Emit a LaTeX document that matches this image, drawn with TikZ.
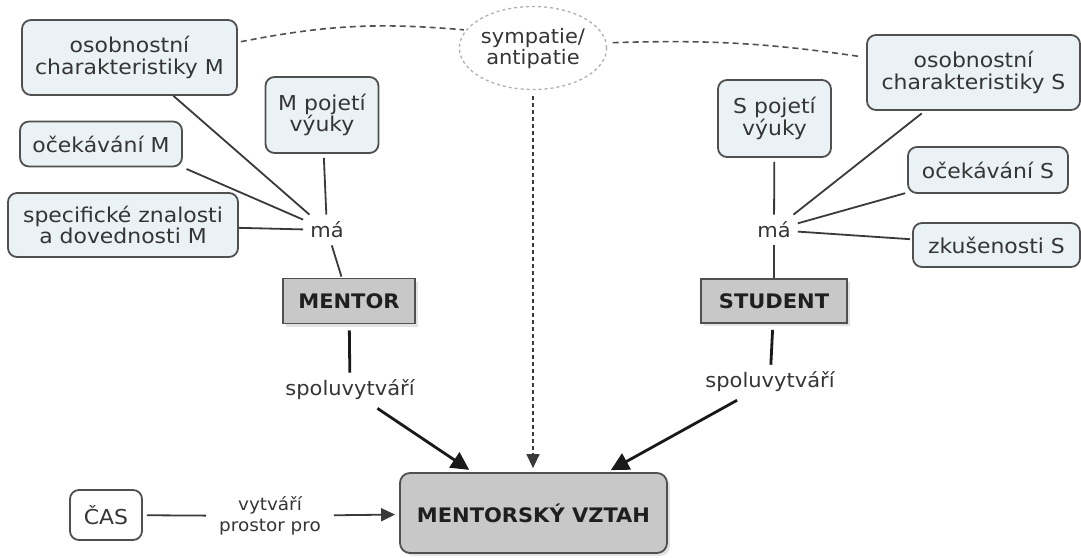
\documentclass[tikz,border=0pt]{standalone}
\usepackage{fontspec}
\setmainfont{DejaVu Sans}[FakeStretch=1.07]
\newfontfamily\headfont{DejaVu Sans}[FakeStretch=1.05]
\usetikzlibrary{arrows.meta,shadows,shapes.geometric}

\definecolor{boxfill}{HTML}{EAF2F6}
\definecolor{boxline}{HTML}{505050}
\definecolor{txt}{HTML}{353535}
\definecolor{grayfill}{HTML}{C8C8C8}
\definecolor{linecol}{HTML}{3A3A3A}
\definecolor{ovalline}{HTML}{B0B0B0}

\tikzset{
  concept/.style={draw=boxline, line width=1.8pt, fill=boxfill, rounded corners=9pt,
    align=center, text=txt, inner sep=0pt, font=\fontsize{20.5}{21.5}\selectfont},
  actor/.style={draw=boxline, line width=1.8pt, fill=grayfill, inner sep=0pt,
    text=black!88, font=\headfont\fontsize{20}{22}\selectfont\bfseries,
    drop shadow={shadow xshift=3pt, shadow yshift=-3pt, opacity=0.22}},
  phrase/.style={text=txt, inner sep=7pt, align=center,
    font=\headfont\fontsize{20}{21}\selectfont},
  link/.style={draw=linecol, line width=1.8pt},
  strong/.style={draw=black!90, line width=2.8pt},
  bighead/.style={-{Triangle[length=18pt,width=18pt]}},
  smallhead/.style={-{Triangle[length=14pt,width=13pt]}},
  dashlink/.style={draw=boxline, line width=1.6pt, dash pattern=on 6pt off 4pt},
}

\begin{document}
\begin{tikzpicture}[x=1pt,y=-1pt]
  \useasboundingbox[fill=white] (0,0) rectangle (1081,557);

  % mentor side
  \node[concept, minimum width=215pt, minimum height=75pt] (om) at (129.5,57.5)
    {osobnostní\\charakteristiky M};
  \node[concept, minimum width=113pt, minimum height=76pt] (mp) at (322,115)
    {M pojetí\\výuky};
  \node[concept, minimum width=162pt, minimum height=45pt] (oM) at (101,144)
    {očekávání M};
  \node[concept, minimum width=230pt, minimum height=64pt] (sz) at (123,225)
    {specifické znalosti\\a dovednosti M};
  \node[phrase] (maL) at (327,230) {má};
  \node[actor, minimum width=132pt, minimum height=45pt] (mentor) at (349,301) {MENTOR};
  \node[phrase] (spolL) at (350,390) {spoluvytváří};

  % shared feeling
  \node[ellipse, draw=ovalline, line width=1.3pt, dash pattern=on 3pt off 3pt,
        minimum width=139pt, minimum height=83pt, inner sep=0pt, align=center,
        text=txt, font=\headfont\fontsize{20}{21}\selectfont] (sym) at (533,48)
    {sympatie/\\antipatie};

  % student side
  \node[concept, minimum width=213pt, minimum height=75pt] (osS) at (973.5,72.5)
    {osobnostní\\charakteristiky S};
  \node[concept, minimum width=113pt, minimum height=77pt] (sp) at (774.5,118.5)
    {S pojetí\\výuky};
  \node[concept, minimum width=160pt, minimum height=46pt] (oS) at (988,170)
    {očekávání S};
  \node[concept, minimum width=167pt, minimum height=44pt] (zS) at (996.5,245)
    {zkušenosti S};
  \node[phrase] (maR) at (774,230) {má};
  \node[actor, minimum width=146pt, minimum height=44pt] (student) at (774,301) {STUDENT};
  \node[phrase] (spolR) at (770,382) {spoluvytváří};

  % relationship and time
  \node[actor, rounded corners=10pt, minimum width=267pt, minimum height=80pt] (mv)
    at (533.5,513) {MENTORSKÝ VZTAH};
  \node[concept, fill=white, minimum width=72pt, minimum height=50pt] (cas)
    at (106,515) {ČAS};
  \node[phrase, inner xsep=13pt, font=\headfont\fontsize{17.5}{21}\selectfont] (vyt)
    at (270,516) {vytváří\\prostor pro};

  % mentor links
  \draw[link] (om) -- (maL);
  \draw[link, shorten <=4pt] (oM.south east) -- (maL);
  \draw[link] (sz) -- (maL);
  \draw[link, shorten <=4pt] (mp) -- (maL);
  \draw[link, shorten >=1pt] (maL) -- (mentor);
  \draw[strong, shorten <=6pt] (mentor) -- (spolL);
  \draw[strong, bighead, shorten <=2pt, shorten >=4pt] (spolL) -- (mv);

  % student links
  \draw[link, shorten <=4pt] (osS) -- (maR);
  \draw[link, shorten <=2pt] (oS) -- (maR);
  \draw[link, shorten <=2pt] (zS) -- (maR);
  \draw[link, shorten <=4pt] (sp) -- (maR);
  \draw[link] (maR) -- (student);
  \draw[strong, shorten <=6pt] (student) -- (spolR);
  \draw[strong, bighead, shorten <=2pt, shorten >=4pt] (spolR) -- (mv);

  % sympathy links
  \draw[dashlink, shorten <=3pt, shorten >=2pt] (om.8) to[bend left=8] (sym.165);
  \draw[dashlink, shorten <=6pt, shorten >=8pt] (sym.4) to[bend left=5] (osS.172);
  \draw[draw=linecol, line width=1.4pt, dash pattern=on 4pt off 3pt, smallhead,
        shorten <=6pt, shorten >=4pt] (sym) -- (mv.north -| sym);

  % time link
  \draw[link, shorten <=4pt] (cas) -- (vyt);
  \draw[link, smallhead, shorten >=4pt] (vyt) -- (mv);
\end{tikzpicture}
\end{document}
